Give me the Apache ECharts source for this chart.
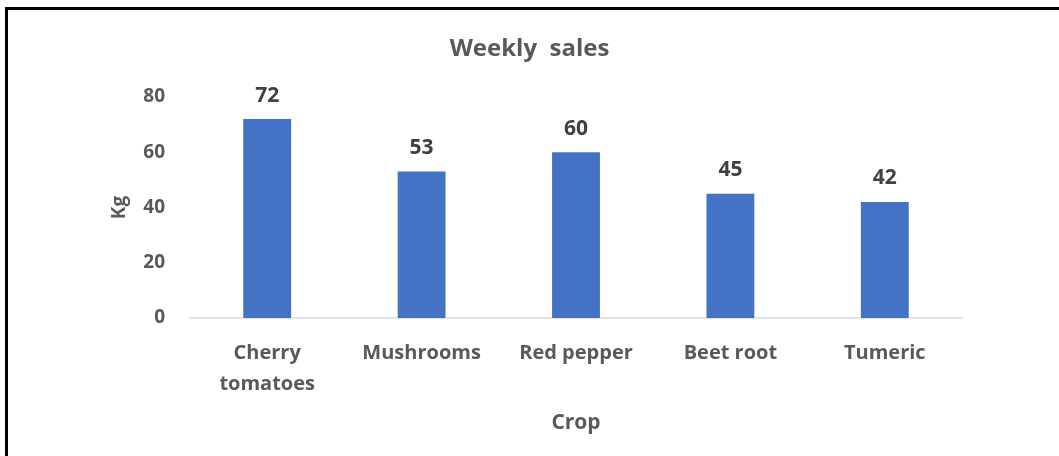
<!DOCTYPE html>
<html>
<head>
<meta charset="utf-8">
<script src="https://cdn.jsdelivr.net/npm/echarts@6/dist/echarts.min.js"></script>
<style>
  html, body { margin: 0; padding: 0; background: #fff; }
  #chart { width: 1059px; height: 456px; }
  .frame {
    position: absolute; left: 5px; top: 7px; right: 0; bottom: 0;
    border-left: 3px solid #000; border-top: 3px solid #000;
    pointer-events: none;
  }
</style>
</head>
<body>
<div id="chart"></div>
<div class="frame"></div>
<script>
// 数据
const crops = ['Cherry\ntomatoes', 'Mushrooms', 'Red pepper', 'Beet root', 'Tumeric']
const salesKg = [72, 53, 60, 45, 42]
const yTicks = { min: 0, max: 80, interval: 20 }

const textColor = '#595959'
const barColor = '#4472c4'
const font = "'Open Sans', 'Noto Sans', sans-serif"

const chart = echarts.init(document.getElementById('chart'))
chart.setOption({
  animation: false,
  title: {
    text: 'Weekly  sales',
    left: 'center',
    top: 32,
    textStyle: { color: textColor, fontSize: 24, fontWeight: 'bold', fontFamily: font }
  },
  grid: { left: 190, right: 97, top: 97, bottom: 138 },
  xAxis: {
    type: 'category',
    data: crops,
    name: 'Crop',
    nameLocation: 'middle',
    nameGap: 95,
    nameTextStyle: { color: textColor, fontSize: 21, fontWeight: 'bold', fontFamily: font },
    axisLine: { lineStyle: { color: '#d9d9d9', width: 1.5 } },
    axisTick: { show: false },
    axisLabel: {
      color: textColor, fontSize: 20, fontWeight: 'bold', fontFamily: font,
      margin: 20, lineHeight: 31
    }
  },
  yAxis: {
    type: 'value',
    min: yTicks.min,
    max: yTicks.max,
    interval: yTicks.interval,
    name: 'Kg',
    nameLocation: 'middle',
    nameGap: 61,
    nameRotate: 90,
    nameTextStyle: { color: textColor, fontSize: 19, fontWeight: 'bold', fontFamily: font },
    axisLine: { show: false },
    axisTick: { show: false },
    splitLine: { show: false },
    axisLabel: { color: textColor, fontSize: 19, fontWeight: 'bold', fontFamily: font, margin: 25 }
  },
  series: [{
    type: 'bar',
    data: salesKg,
    barWidth: '31%',
    itemStyle: { color: barColor },
    label: {
      show: true,
      position: 'top',
      distance: 13,
      color: '#404040',
      fontSize: 21,
      fontWeight: 'bold',
      fontFamily: font
    }
  }]
})
</script>
</body>
</html>
